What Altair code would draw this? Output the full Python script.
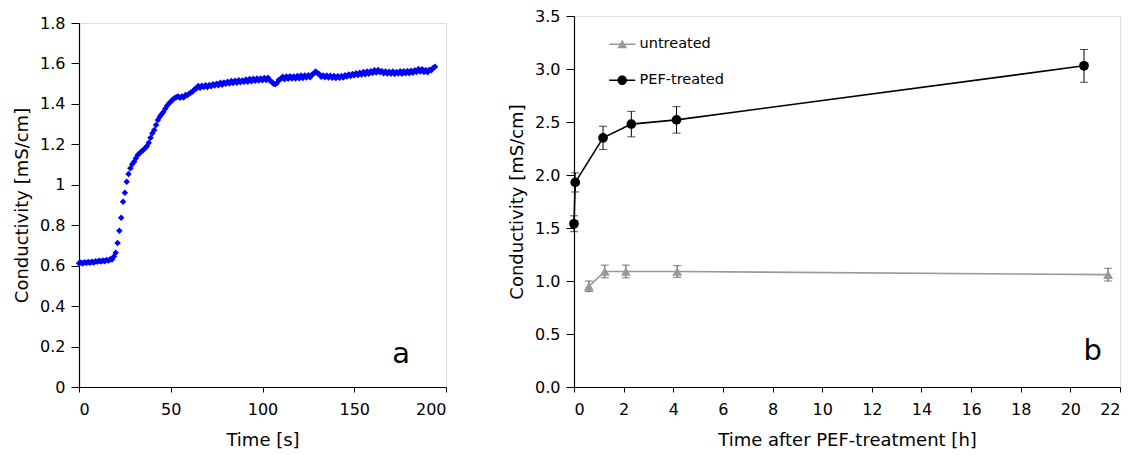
import altair as alt
import pandas as pd

FONT = "DejaVu Sans"

# ---------------- Panel a: conductivity vs time ----------------
time_s = [
    0, 1, 2, 3, 4, 5, 6, 7, 8, 9, 10, 11, 12, 13, 14, 15, 16, 17, 18, 19,
    20, 21, 22, 23, 24, 25, 26, 27, 28, 29, 30, 31, 32, 33, 34, 35, 36, 37, 38, 39,
    40, 41, 42, 43, 44, 45, 46, 47, 48, 49, 50, 51, 52, 53, 54, 55, 56, 57, 58, 59,
    60, 61, 62, 63, 64, 65, 66, 67, 68, 69, 70, 71, 72, 73, 74, 75, 76, 77, 78, 79,
    80, 81, 82, 83, 84, 85, 86, 87, 88, 89, 90, 91, 92, 93, 94, 95, 96, 97, 98, 99,
    100, 101, 102, 103, 104, 105, 106, 107, 108, 109, 110, 111, 112, 113, 114, 115, 116, 117, 118, 119,
    120, 121, 122, 123, 124, 125, 126, 127, 128, 129, 130, 131, 132, 133, 134, 135, 136, 137, 138, 139,
    140, 141, 142, 143, 144, 145, 146, 147, 148, 149, 150, 151, 152, 153, 154, 155, 156, 157, 158, 159,
    160, 161, 162, 163, 164, 165, 166, 167, 168, 169, 170, 171, 172, 173, 174, 175, 176, 177, 178, 179,
    180, 181, 182, 183, 184, 185, 186, 187, 188, 189, 190, 191, 192, 193, 194,
]
conductivity_a = [
    0.612, 0.616, 0.611, 0.617, 0.613, 0.618, 0.614, 0.619, 0.616, 0.622,
    0.619, 0.624, 0.621, 0.626, 0.622, 0.628, 0.625, 0.632, 0.630, 0.645,
    0.664, 0.712, 0.773, 0.837, 0.916, 0.961, 1.015, 1.053, 1.082, 1.101,
    1.114, 1.131, 1.147, 1.156, 1.165, 1.172, 1.181, 1.190, 1.208, 1.233,
    1.255, 1.271, 1.296, 1.320, 1.336, 1.349, 1.360, 1.376, 1.391, 1.402,
    1.411, 1.421, 1.428, 1.433, 1.436, 1.430, 1.437, 1.432, 1.444, 1.443,
    1.450, 1.456, 1.461, 1.472, 1.476, 1.488, 1.480, 1.490, 1.483, 1.492,
    1.484, 1.494, 1.487, 1.497, 1.491, 1.500, 1.492, 1.505, 1.495, 1.506,
    1.500, 1.509, 1.501, 1.513, 1.503, 1.515, 1.505, 1.517, 1.507, 1.516,
    1.509, 1.521, 1.510, 1.523, 1.512, 1.524, 1.514, 1.526, 1.515, 1.525,
    1.517, 1.528, 1.518, 1.529, 1.516, 1.510, 1.500, 1.497, 1.505, 1.519,
    1.523, 1.534, 1.522, 1.536, 1.524, 1.537, 1.525, 1.536, 1.526, 1.538,
    1.527, 1.540, 1.528, 1.541, 1.530, 1.542, 1.532, 1.545, 1.550, 1.560,
    1.552, 1.546, 1.534, 1.541, 1.532, 1.540, 1.530, 1.539, 1.529, 1.538,
    1.528, 1.537, 1.529, 1.538, 1.531, 1.542, 1.535, 1.545, 1.538, 1.548,
    1.541, 1.551, 1.543, 1.554, 1.545, 1.558, 1.547, 1.560, 1.549, 1.562,
    1.553, 1.566, 1.555, 1.568, 1.556, 1.563, 1.552, 1.560, 1.550, 1.559,
    1.549, 1.560, 1.548, 1.558, 1.550, 1.561, 1.549, 1.562, 1.551, 1.563,
    1.552, 1.564, 1.554, 1.566, 1.558, 1.572, 1.560, 1.571, 1.558, 1.568,
    1.557, 1.569, 1.566, 1.578, 1.584,
]
x_ticks_a = [0, 50, 100, 150, 200]
y_ticks_a = [0, 0.2, 0.4, 0.6, 0.8, 1, 1.2, 1.4, 1.6, 1.8]
panel_a_tag = {"x": [175.5], "y": [0.165], "label": ["a"]}

# ---------------- Panel b: conductivity after PEF treatment ----------------
series_names = ["untreated", "PEF-treated"]
untreated_t = [0.6, 1.24, 2.09, 4.16, 21.52]
untreated_v = [0.95, 1.09, 1.09, 1.09, 1.06]
untreated_err = [0.05, 0.06, 0.06, 0.055, 0.06]
pef_t = [0.0, 0.05, 1.17, 2.31, 4.13, 20.55]
pef_v = [1.54, 1.93, 2.35, 2.48, 2.52, 3.03]
pef_err = [0.075, 0.09, 0.11, 0.12, 0.125, 0.155]
x_ticks_b = [0, 2, 4, 6, 8, 10, 12, 14, 16, 18, 20, 22]
y_ticks_b = [0, 0.5, 1.0, 1.5, 2.0, 2.5, 3.0, 3.5]
panel_b_tag = {"x": [20.9], "y": [0.34], "label": ["b"]}

series_colors = {"untreated": "#999999", "PEF-treated": "#000000"}
bar_colors = {"untreated": "#444444", "PEF-treated": "#000000"}
series_shapes = {"untreated": "triangle-up", "PEF-treated": "circle"}
series_sizes = {"untreated": 100, "PEF-treated": 95}

# ---------------- build tables ----------------
df_a = pd.DataFrame({"t": time_s, "c": conductivity_a})
rows = []
for t, v, e in zip(untreated_t, untreated_v, untreated_err):
    rows.append({"series": "untreated", "t": t, "v": v, "lo": v - e, "hi": v + e})
for t, v, e in zip(pef_t, pef_v, pef_err):
    rows.append({"series": "PEF-treated", "t": t, "v": v, "lo": v - e, "hi": v + e})
df_b = pd.DataFrame(rows)

axis_common = dict(
    grid=False, domainColor="black", tickColor="black", labelColor="black",
    titleColor="black", labelFont=FONT, titleFont=FONT, labelFontSize=16,
    titleFontSize=18, titleFontWeight="normal", domainWidth=1.2, tickWidth=1,
)
x_axis_style = dict(tickSize=5, labelPadding=9, titlePadding=14, **axis_common)
y_axis_style = dict(tickSize=8, labelPadding=6, titlePadding=8, **axis_common)

no_frame = alt.ViewBackground(strokeOpacity=0, strokeWidth=0)

# ---------------- panel a chart ----------------
xa = alt.X("t:Q", scale=alt.Scale(domain=[0, 200], nice=False),
           axis=alt.Axis(values=x_ticks_a, format="d", title="Time [s]", **x_axis_style))
ya = alt.Y("c:Q", scale=alt.Scale(domain=[0, 1.8], nice=False),
           axis=alt.Axis(values=y_ticks_a, format="~g", title="Conductivity [mS/cm]", **y_axis_style))

pts_a = alt.Chart(df_a).mark_point(shape="diamond", filled=True, color="#0000ff",
                                   size=42, opacity=1).encode(x=xa, y=ya)
tag_a = alt.Chart(pd.DataFrame(panel_a_tag)).mark_text(
    font=FONT, fontSize=29, color="black", align="center", baseline="middle"
).encode(x="x:Q", y="y:Q", text="label:N")

chart_a = alt.layer(pts_a, tag_a).properties(width=367, height=364)

spacer_a = alt.Chart(pd.DataFrame({"s": [0]})).mark_point(opacity=0, size=1).properties(
    width=367, height=8, view=no_frame)
column_a = alt.vconcat(spacer_a, chart_a, spacing=0)

# ---------------- panel b chart ----------------
xb = alt.X("t:Q", scale=alt.Scale(domain=[0, 22], nice=False),
           axis=alt.Axis(values=x_ticks_b, format="d", title="Time after PEF-treatment [h]", **x_axis_style))
yb = alt.Y("v:Q", scale=alt.Scale(domain=[0, 3.5], nice=False),
           axis=alt.Axis(values=y_ticks_b, format=".1f", title="Conductivity [mS/cm]", **y_axis_style))

base_b = alt.Chart(df_b)
layers_b = []
for i, name in enumerate(series_names):
    sub = base_b.transform_filter(alt.datum.series == name)
    if i == 0:
        line = sub.mark_line(strokeWidth=1.6, color=series_colors[name]).encode(x=xb, y=yb)
    else:
        line = sub.mark_line(strokeWidth=1.6, color=series_colors[name]).encode(x="t:Q", y="v:Q")
    stem = sub.mark_rule(strokeWidth=1, color=bar_colors[name]).encode(x="t:Q", y="lo:Q", y2="hi:Q")
    cap_lo = sub.mark_tick(orient="horizontal", size=8, thickness=1, color=bar_colors[name]).encode(
        x="t:Q", y="lo:Q")
    cap_hi = sub.mark_tick(orient="horizontal", size=8, thickness=1, color=bar_colors[name]).encode(
        x="t:Q", y="hi:Q")
    layers_b += [line, stem, cap_lo, cap_hi]
for name in series_names:
    sub = base_b.transform_filter(alt.datum.series == name)
    layers_b.append(sub.mark_point(shape=series_shapes[name], filled=True, color=series_colors[name],
                                   size=series_sizes[name], opacity=1).encode(x="t:Q", y="v:Q"))

# legend: each symbol is a short line with the marker on it; the layer itself is clipped away
legend_paths = [
    "M-2.6,-0.15H2.6V0.15H-2.6ZM0,-0.9L1,0.8H-1Z",
    "M-2.6,-0.15H2.6V0.15H-2.6ZM0.95,0A0.95,0.95,0,1,1,-0.95,0A0.95,0.95,0,1,1,0.95,0Z",
]
leg = alt.Legend(title=None, orient="none", legendX=536, legendY=31, symbolSize=100,
                 labelFont=FONT, labelFontSize=14.5, labelColor="black",
                 labelOffset=10, rowPadding=21)
legend_layer = alt.Chart(pd.DataFrame({"series": series_names})).mark_point(
    filled=True, clip=True, size=100, opacity=1
).encode(
    x=alt.value(-60), y=alt.value(-60),
    color=alt.Color("series:N", scale=alt.Scale(domain=series_names,
                                                range=[series_colors[s] for s in series_names]), legend=leg),
    shape=alt.Shape("series:N", scale=alt.Scale(domain=series_names, range=legend_paths), legend=leg),
)
layers_b.append(legend_layer)

tag_b = alt.Chart(pd.DataFrame(panel_b_tag)).mark_text(
    font=FONT, fontSize=29, color="black", align="center", baseline="middle"
).encode(x="x:Q", y="y:Q", text="label:N")
layers_b.append(tag_b)

chart_b = alt.layer(*layers_b).properties(width=546, height=371)

spacer_b = alt.Chart(pd.DataFrame({"s": [0]})).mark_point(opacity=0, size=1).properties(
    width=546, height=1, view=no_frame)
column_b = alt.vconcat(spacer_b, chart_b, spacing=0)

chart = alt.hconcat(column_a, column_b, spacing=61).properties(
    padding={"left": 5, "top": -2, "right": 0, "bottom": 5},
).configure_view(stroke="black", strokeWidth=1.2).configure(background="white")

chart.save("out.html", embed_options={"renderer": "svg", "actions": False})
